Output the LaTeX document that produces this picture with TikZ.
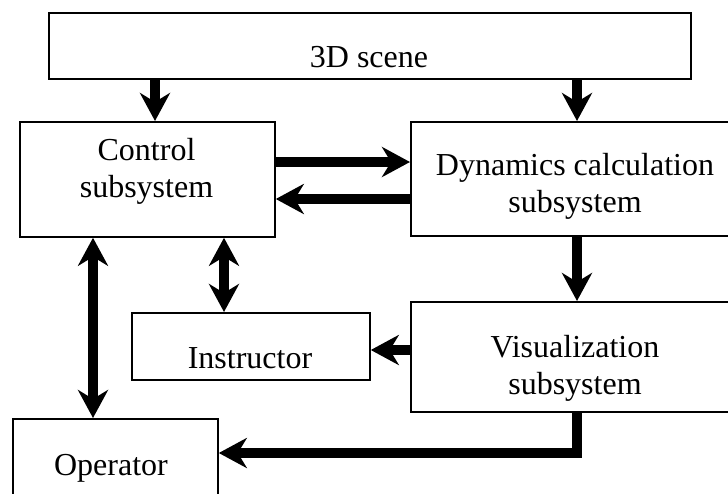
\documentclass[tikz,border=0pt]{standalone}
\usepackage{fontspec}
\setmainfont{Liberation Serif}
\usetikzlibrary{arrows.meta}
\begin{document}
\begin{tikzpicture}[x=1pt,y=-1pt,
  box/.style={draw, line width=1.8pt, rectangle, inner sep=0pt, anchor=north west},
  txt/.style={align=center, inner sep=0pt, anchor=base, font=\fontsize{32}{37}\selectfont},
  arr/.style={line width=10pt, -{Stealth[length=28pt,width=30pt,inset=9pt]}},
  darr/.style={line width=10pt, {Stealth[length=28pt,width=30pt,inset=9pt]}-{Stealth[length=28pt,width=30pt,inset=9pt]}}]
\useasboundingbox (0,0) rectangle (728,493);
\clip (0,0) rectangle (728,493);
% boxes
\node[box, minimum width=642pt, minimum height=66pt] (scene) at (48,12) {};
\node[box, minimum width=255pt, minimum height=115pt] (ctrl) at (19,121) {};
\node[box, minimum width=330pt, minimum height=114pt] (dyn) at (410,121) {};
\node[box, minimum width=330pt, minimum height=110pt] (vis) at (410,301) {};
\node[box, minimum width=238pt, minimum height=67pt] (instr) at (131,312) {};
\node[box, minimum width=205pt, minimum height=100pt] (oper) at (12,418) {};
% texts (base anchor = baseline of the last line)
\node[txt] (sceneT) at (369,67) {3D scene};
\node[txt] (ctrlT) at (146.5,197) {Control\\subsystem};
\node[txt] (dynT) at (575,212) {Dynamics calculation\\subsystem};
\node[txt] (visT) at (575,394) {Visualization\\subsystem};
\node[txt] (instrT) at (250,368) {Instructor};
\node[txt] (operT) at (111,475) {Operator};
% helper coordinates
\coordinate (xa) at (155,0);
\coordinate (xb) at (577,0);
\coordinate (xc) at (93,0);
\coordinate (xd) at (224,0);
\coordinate (ya) at (0,162);
\coordinate (yb) at (0,199);
\coordinate (yc) at (0,350);
\coordinate (yd) at (0,453);
% connectors
\draw[arr] (scene.south -| xa) -- (ctrl.north -| xa);
\draw[arr] (scene.south -| xb) -- (dyn.north -| xb);
\draw[arr] (ctrl.east |- ya) -- (dyn.west |- ya);
\draw[arr] (dyn.west |- yb) -- (ctrl.east |- yb);
\draw[darr] (ctrl.south -| xc) -- (oper.north -| xc);
\draw[darr] (ctrl.south -| xd) -- (instr.north -| xd);
\draw[arr] (dyn.south -| xb) -- (vis.north -| xb);
\draw[arr] (vis.west |- yc) -- (instr.east |- yc);
\draw[arr] (vis.south -| xb) -- (xb |- yd) -- (oper.east |- yd);
\end{tikzpicture}
\end{document}
